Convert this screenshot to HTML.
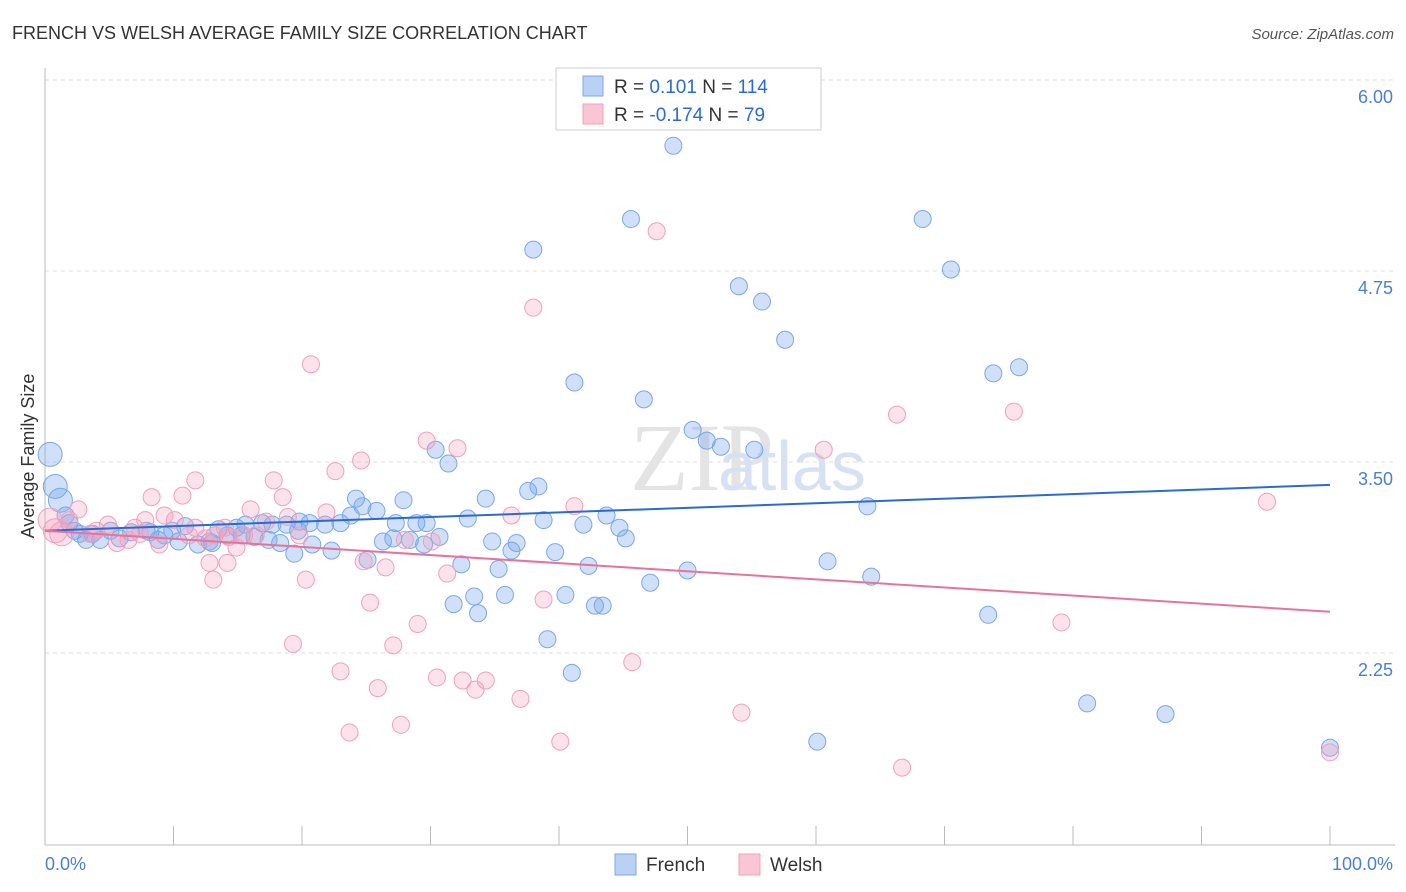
<!DOCTYPE html>
<html><head><meta charset="utf-8"><style>
body{margin:0;background:#fff;font-family:"Liberation Sans",sans-serif;}
svg{display:block}
</style></head><body>
<svg width="1406" height="892" viewBox="0 0 1406 892">
<text x="12" y="39" font-size="18" fill="#333">FRENCH VS WELSH AVERAGE FAMILY SIZE CORRELATION CHART</text>
<text x="1394" y="39" font-size="15" fill="#555" font-style="italic" text-anchor="end">Source: ZipAtlas.com</text>
<g id="grid"></g>
<text x="630" y="490" font-size="96" fill="#e4e4e4" font-family="Liberation Serif,serif">ZIP</text>
<text x="718" y="490" font-size="70" fill="#d6e2f3">atlas</text>
<line x1="45" y1="68" x2="45" y2="845" stroke="#bbb"/>
<line x1="45" y1="845" x2="1395" y2="845" stroke="#bbb"/>
<text transform="translate(34,456) rotate(-90)" font-size="18" fill="#333" text-anchor="middle">Average Family Size</text>
<text x="45" y="870" font-size="18" fill="#4a7fd4">0.0%</text>
<text x="1393" y="870" font-size="18" fill="#4a7fd4" text-anchor="end">100.0%</text>
<g id="pts"></g>
<g id="trends"></g>
<g>
<rect x="556" y="68" width="265" height="62" fill="#fff" stroke="#ccc"/>
<rect x="583" y="76" width="20" height="20" fill="#b9d1f4" stroke="#7aa8e8"/>
<rect x="583" y="104" width="20" height="20" fill="#f9c6d6" stroke="#f0a0bc"/>
<text x="614" y="93" font-size="19" fill="#333">R = <tspan fill="#2a6bd1"> 0.101</tspan>   N = <tspan fill="#2a6bd1">114</tspan></text>
<text x="614" y="121" font-size="19" fill="#333">R = <tspan fill="#2a6bd1">-0.174</tspan>   N = <tspan fill="#2a6bd1"> 79</tspan></text>
</g>
<g>
<rect x="615" y="854" width="21" height="21" fill="#b9d1f4" stroke="#7aa8e8"/>
<text x="646" y="871" font-size="19" fill="#333">French</text>
<rect x="739" y="854" width="21" height="21" fill="#f9c6d6" stroke="#f0a0bc"/>
<text x="770" y="871" font-size="19" fill="#333">Welsh</text>
</g>
</svg>
<script>
const yTicks=[6.00,4.75,3.50,2.25];
const xTickCount=10;
const frenchX=[48.9,45.6,68.3,38.0,70.5,54.0,55.8,57.6,41.2,73.8,75.8,46.6,50.4,51.5,52.6,55.2,30.4,31.4,0.4,0.8,1.2,37.6,38.4,34.3,27.9,24.2,24.7,25.8,23.8,32.9,38.8,43.7,41.9,44.7,45.2,64.0,27.3,28.9,29.7,23.0,21.8,20.6,19.8,18.8,17.7,16.9,15.6,14.9,13.5,10.9,9.9,7.9,6.7,5.1,3.7,2.7,1.9,1.6,2.3,4.3,3.2,5.8,8.8,10.4,11.9,13.0,14.2,15.3,16.3,17.4,18.3,19.7,20.8,22.3,25.1,26.3,27.1,28.4,29.5,30.7,34.8,36.3,36.7,39.7,19.4,32.4,35.3,42.3,50.0,60.9,64.3,47.1,33.4,35.8,31.8,33.7,40.5,42.8,43.4,39.1,73.4,41.0,81.1,87.2,60.1,100,12.8,8.2,9.3];
const frenchY=[5.57,5.09,5.09,4.89,4.76,4.65,4.55,4.30,4.02,4.08,4.12,3.91,3.71,3.64,3.60,3.58,3.58,3.49,3.55,3.34,3.25,3.31,3.34,3.26,3.25,3.26,3.21,3.18,3.15,3.13,3.12,3.15,3.09,3.07,3.00,3.21,3.10,3.10,3.10,3.10,3.09,3.10,3.11,3.09,3.09,3.10,3.09,3.07,3.06,3.08,3.05,3.05,3.04,3.05,3.03,3.03,3.10,3.15,3.05,2.99,2.99,3.00,2.99,2.98,2.96,2.97,3.02,3.02,3.01,2.99,2.97,3.05,2.96,2.92,2.86,2.98,3.00,2.99,2.96,3.01,2.98,2.92,2.97,2.91,2.90,2.83,2.80,2.82,2.79,2.85,2.75,2.71,2.62,2.63,2.57,2.51,2.63,2.56,2.56,2.34,2.50,2.12,1.92,1.85,1.67,1.63,2.98,3.04,3.02];
const welshX=[47.6,38.0,20.7,66.3,75.4,29.7,32.1,60.6,22.6,24.6,11.7,17.8,8.3,10.7,18.5,16.0,21.9,36.3,41.2,95.1,0.4,0.8,1.3,2.6,3.5,4.0,4.9,5.6,6.5,7.4,7.8,9.3,10.1,8.9,11.2,12.5,13.2,14.3,14.9,15.5,16.4,17.2,18.9,19.8,28.0,30.1,24.8,26.5,31.3,20.3,12.8,14.2,13.1,25.3,38.8,29.0,19.3,27.1,45.7,79.1,23.0,30.5,32.5,34.3,33.5,25.9,37.0,54.2,23.7,27.7,40.1,66.7,100,1.9,7.0,11.7,14.0];
const welshY=[5.01,4.51,4.14,3.81,3.83,3.64,3.59,3.58,3.44,3.51,3.38,3.38,3.27,3.28,3.27,3.19,3.17,3.15,3.21,3.24,3.12,3.05,3.03,3.19,3.03,3.05,3.09,2.97,2.99,3.03,3.12,3.15,3.12,2.96,3.02,3.00,3.02,3.01,2.94,3.02,3.02,3.11,3.14,3.02,2.99,2.98,2.85,2.81,2.77,2.73,2.84,2.84,2.73,2.58,2.60,2.44,2.31,2.30,2.19,2.45,2.13,2.09,2.07,2.07,2.01,2.02,1.95,1.86,1.73,1.78,1.67,1.50,1.60,3.12,3.07,3.07,3.07];
const frenchTrend=[3.05,3.35];
const welshTrend=[3.05,2.52];
const NS='http://www.w3.org/2000/svg';
const xs=v=>45+v*12.85;
const ys=v=>80+(6-v)*152.8;
function mk(tag,attrs,parent){const e=document.createElementNS(NS,tag);for(const k in attrs)e.setAttribute(k,attrs[k]);parent.appendChild(e);return e;}
const grid=document.getElementById('grid');
yTicks.forEach(t=>{
  const l=mk('line',{x1:45,x2:1395,y1:ys(t),y2:ys(t),stroke:'#ddd','stroke-dasharray':'4,4'},grid);
  
  
  const tx=mk('text',{x:1393,y:ys(t)+23,'font-size':18,fill:'#4a7fd4','text-anchor':'end'},grid);
  tx.textContent=t.toFixed(2);
  
  
});
for(let i=0;i<=xTickCount;i++){
  const x=xs(i*100/xTickCount);
  const l=mk('line',{x1:x,x2:x,y1:826,y2:845,stroke:'#bbb'},grid);
  
  
}
const pts=document.getElementById('pts');
function plot(X,Y,fill,stroke,name){
  X.forEach((x,i)=>{
    const r=x<1.5?12:8.5;
    const c=mk('circle',{cx:xs(x),cy:ys(Y[i]),r:r,fill:fill,stroke:stroke,'stroke-width':1},pts);
    
    
  });
}
plot(frenchX,frenchY,'rgba(120,165,235,0.35)','#7aa8e8','french-point');
plot(welshX,welshY,'rgba(245,160,190,0.3)','#f0a0bc','welsh-point');
const tr=document.getElementById('trends');
const t1=mk('line',{x1:xs(0),y1:ys(frenchTrend[0]),x2:xs(100),y2:ys(frenchTrend[1]),stroke:'#2a6bd1','stroke-width':2},tr);


const t2=mk('line',{x1:xs(0),y1:ys(welshTrend[0]),x2:xs(100),y2:ys(welshTrend[1]),stroke:'#e6739b','stroke-width':2},tr);


</script>
</body></html>
